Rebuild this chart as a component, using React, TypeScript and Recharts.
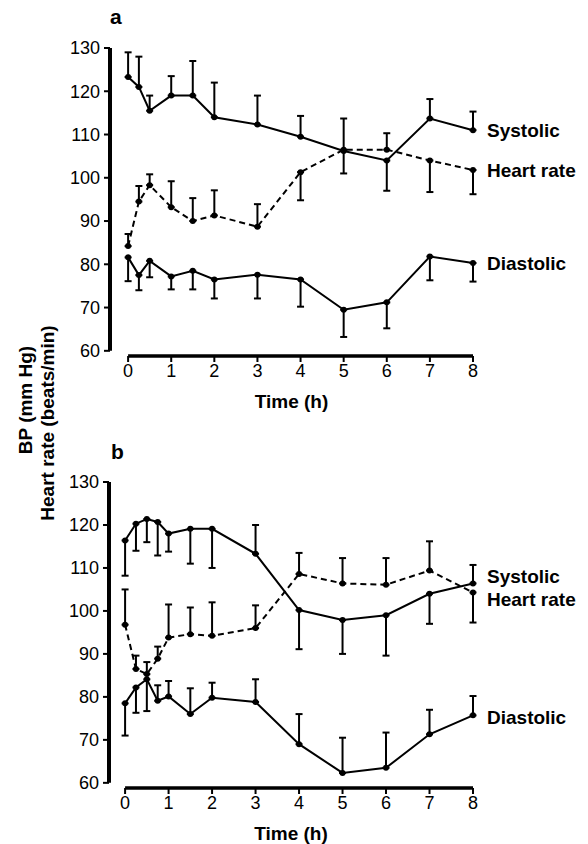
import { LineChart, Line, XAxis, YAxis, ErrorBar, ReferenceLine, LabelList } from "recharts";

const FONT = '"Liberation Sans", Arial, Helvetica, sans-serif';

const hourTicks = [0, 1, 2, 3, 4, 5, 6, 7, 8];
const bpTicks = [60, 70, 80, 90, 100, 110, 120, 130];

// panel a
const timesA = [0, 0.25, 0.5, 1, 1.5, 2, 3, 4, 5, 6, 7, 8];
const systolicA = [123.3, 121, 115.5, 119, 119, 114, 112.3, 109.5, 106.2, 104, 113.7, 111];
const systolicUpA = [5.7, 7, 3.5, 4.5, 8, 8, 6.7, 4.8, 7.5, 0, 4.5, 4.3];
const systolicDownA = [0, 0, 0, 0, 0, 0, 0, 0, 0, 7, 0, 0];
const heartRateA = [84.2, 94.5, 98.3, 93.2, 90, 91.3, 88.7, 101.3, 106.5, 106.5, 104, 101.8];
const heartRateUpA = [2.8, 3.6, 2.5, 6, 5.3, 5.8, 5.2, 0, 0, 3.8, 0, 0];
const heartRateDownA = [0, 0, 0, 0, 0, 0, 0, 6.5, 5.5, 0, 7.3, 5.6];
const diastolicA = [81.6, 77.5, 80.8, 77.2, 78.5, 76.5, 77.6, 76.5, 69.5, 71.2, 81.8, 80.3];
const diastolicUpA = [0, 0, 0, 0, 0, 0, 0, 0, 0, 0, 0, 0];
const diastolicDownA = [5.5, 3.5, 3.8, 3, 4.3, 4.4, 5.5, 6.3, 6.3, 6, 5.5, 4.3];

// panel b
const timesB = [0, 0.25, 0.5, 0.75, 1, 1.5, 2, 3, 4, 5, 6, 7, 8];
const systolicB = [116.4, 120.3, 121.4, 120.7, 118, 119.1, 119.1, 113.3, 100.2, 97.9, 99, 104, 106.4];
const systolicUpB = [0, 0, 0, 0, 0, 0, 0, 6.7, 0, 0, 0, 0, 4.3];
const systolicDownB = [8.2, 6.3, 5.4, 7.8, 4.2, 8.1, 9.1, 0, 9.1, 7.9, 9.4, 7, 0];
const heartRateB = [96.8, 86.5, 85.3, 88.9, 93.8, 94.6, 94.2, 96, 108.6, 106.4, 106.1, 109.4, 104.3];
const heartRateUpB = [8.2, 3.1, 2.8, 2.8, 7.7, 6.2, 7.8, 5.3, 4.9, 5.9, 6.2, 6.8, 0];
const heartRateDownB = [0, 0, 0, 0, 0, 0, 0, 0, 0, 0, 0, 0, 7];
const diastolicB = [78.5, 82.2, 84.1, 79.1, 80.1, 76, 79.8, 78.8, 69, 62.3, 63.5, 71.3, 75.7];
const diastolicUpB = [0, 0, 0, 3.6, 3.6, 6, 3.5, 5.3, 7, 8.2, 8.2, 5.7, 4.5];
const diastolicDownB = [7.5, 5.9, 7.4, 0, 0, 0, 0, 0, 0, 0, 0, 0, 0];

function buildRows(
  times: number[],
  sys: number[], sysUp: number[], sysDown: number[],
  hr: number[], hrUp: number[], hrDown: number[],
  dia: number[], diaUp: number[], diaDown: number[]
) {
  return times.map((t, i) => ({
    t,
    sys: sys[i],
    sysErr: [sysDown[i], sysUp[i]],
    hr: hr[i],
    hrErr: [hrDown[i], hrUp[i]],
    dia: dia[i],
    diaErr: [diaDown[i], diaUp[i]],
  }));
}

const rowsA = buildRows(timesA, systolicA, systolicUpA, systolicDownA, heartRateA, heartRateUpA, heartRateDownA, diastolicA, diastolicUpA, diastolicDownA);
const rowsB = buildRows(timesB, systolicB, systolicUpB, systolicDownB, heartRateB, heartRateUpB, heartRateDownB, diastolicB, diastolicUpB, diastolicDownB);

function endLabel(text: string, last: number, dy: number) {
  return (props: any) => {
    if (props.index !== last) return null;
    return (
      <text x={props.x + 14} y={props.y + dy} dy="0.36em" fontSize={19} fontWeight="bold" fontFamily={FONT} fill="#000">
        {text}
      </text>
    );
  };
}

const dotStyle = { r: 3, fill: "#000", stroke: "#000", strokeWidth: 0 };

interface PanelProps {
  rows: ReturnType<typeof buildRows>;
  height: number;
  top: number;
  axisWidth: number;
  xMin: number;
  offsets: [number, number, number];
}

function Panel({ rows, height, top, axisWidth, xMin, offsets }: PanelProps) {
  const last = rows.length - 1;
  const yMin = 58.8;
  return (
    <div style={{ position: "absolute", left: 0, top: 0 }}>
      <LineChart width={588} height={height} data={rows} margin={{ top, right: 115, bottom: 0, left: 0 }}>
        <XAxis
          dataKey="t"
          type="number"
          domain={[xMin, 8]}
          ticks={hourTicks}
          interval={0}
          axisLine={false}
          tickLine={{ stroke: "#000", strokeWidth: 2 }}
          tickSize={6}
          tick={{ fill: "#000", fontSize: 18, fontFamily: FONT }}
          height={56}
          label={{ value: "Time (h)", position: "insideBottom", offset: 4, fill: "#000", fontSize: 19, fontWeight: "bold", fontFamily: FONT }}
        />
        <YAxis
          type="number"
          domain={[yMin, 130]}
          ticks={bpTicks}
          interval={0}
          width={axisWidth}
          axisLine={false}
          tickLine={{ stroke: "#000", strokeWidth: 2 }}
          tickSize={6}
          tickMargin={4}
          tick={{ fill: "#000", fontSize: 18, fontFamily: FONT }}
        />
        <ReferenceLine segment={[{ x: xMin, y: 60 }, { x: xMin, y: 130 }]} stroke="#000" strokeWidth={4} ifOverflow="visible" />
        <ReferenceLine segment={[{ x: 0, y: yMin }, { x: 8, y: yMin }]} stroke="#000" strokeWidth={3.5} ifOverflow="visible" />
        <Line dataKey="sys" type="linear" stroke="#000" strokeWidth={2} dot={dotStyle} activeDot={false} isAnimationActive={false}>
          <ErrorBar dataKey="sysErr" direction="y" width={3.5} stroke="#000" strokeWidth={2} isAnimationActive={false} />
          <LabelList dataKey="sys" content={endLabel("Systolic", last, offsets[0])} />
        </Line>
        <Line dataKey="hr" type="linear" stroke="#000" strokeWidth={2} strokeDasharray="6 4" dot={dotStyle} activeDot={false} isAnimationActive={false}>
          <ErrorBar dataKey="hrErr" direction="y" width={3.5} stroke="#000" strokeWidth={2} isAnimationActive={false} />
          <LabelList dataKey="hr" content={endLabel("Heart rate", last, offsets[1])} />
        </Line>
        <Line dataKey="dia" type="linear" stroke="#000" strokeWidth={2} dot={dotStyle} activeDot={false} isAnimationActive={false}>
          <ErrorBar dataKey="diaErr" direction="y" width={3.5} stroke="#000" strokeWidth={2} isAnimationActive={false} />
          <LabelList dataKey="dia" content={endLabel("Diastolic", last, offsets[2])} />
        </Line>
      </LineChart>
    </div>
  );
}

export default function App() {
  return (
    <div style={{ position: "absolute", left: 0, top: 0, width: 588, height: 844, background: "#fff", fontFamily: FONT }}>
      <Panel rows={rowsA} height={412} top={48} axisWidth={110} xMin={-0.42} offsets={[0, 0, 0]} />
      <Panel rows={rowsB} height={844} top={482} axisWidth={109} xMin={-0.37} offsets={[-7, 7, 2]} />
      <div style={{ position: "absolute", left: 110, top: 6, fontSize: 21, fontWeight: "bold", lineHeight: 1 }}>a</div>
      <div style={{ position: "absolute", left: 111, top: 441, fontSize: 21, fontWeight: "bold", lineHeight: 1 }}>b</div>
      <svg width={80} height={844} style={{ position: "absolute", left: 0, top: 0 }}>
        <text transform="translate(25,400) rotate(-90)" textAnchor="middle" dy="0.36em" fontSize={19} fontWeight="bold" fontFamily={FONT}>
          BP (mm Hg)
        </text>
        <text transform="translate(47,423) rotate(-90)" textAnchor="middle" dy="0.36em" fontSize={19} fontWeight="bold" fontFamily={FONT}>
          Heart rate (beats/min)
        </text>
      </svg>
    </div>
  );
}
